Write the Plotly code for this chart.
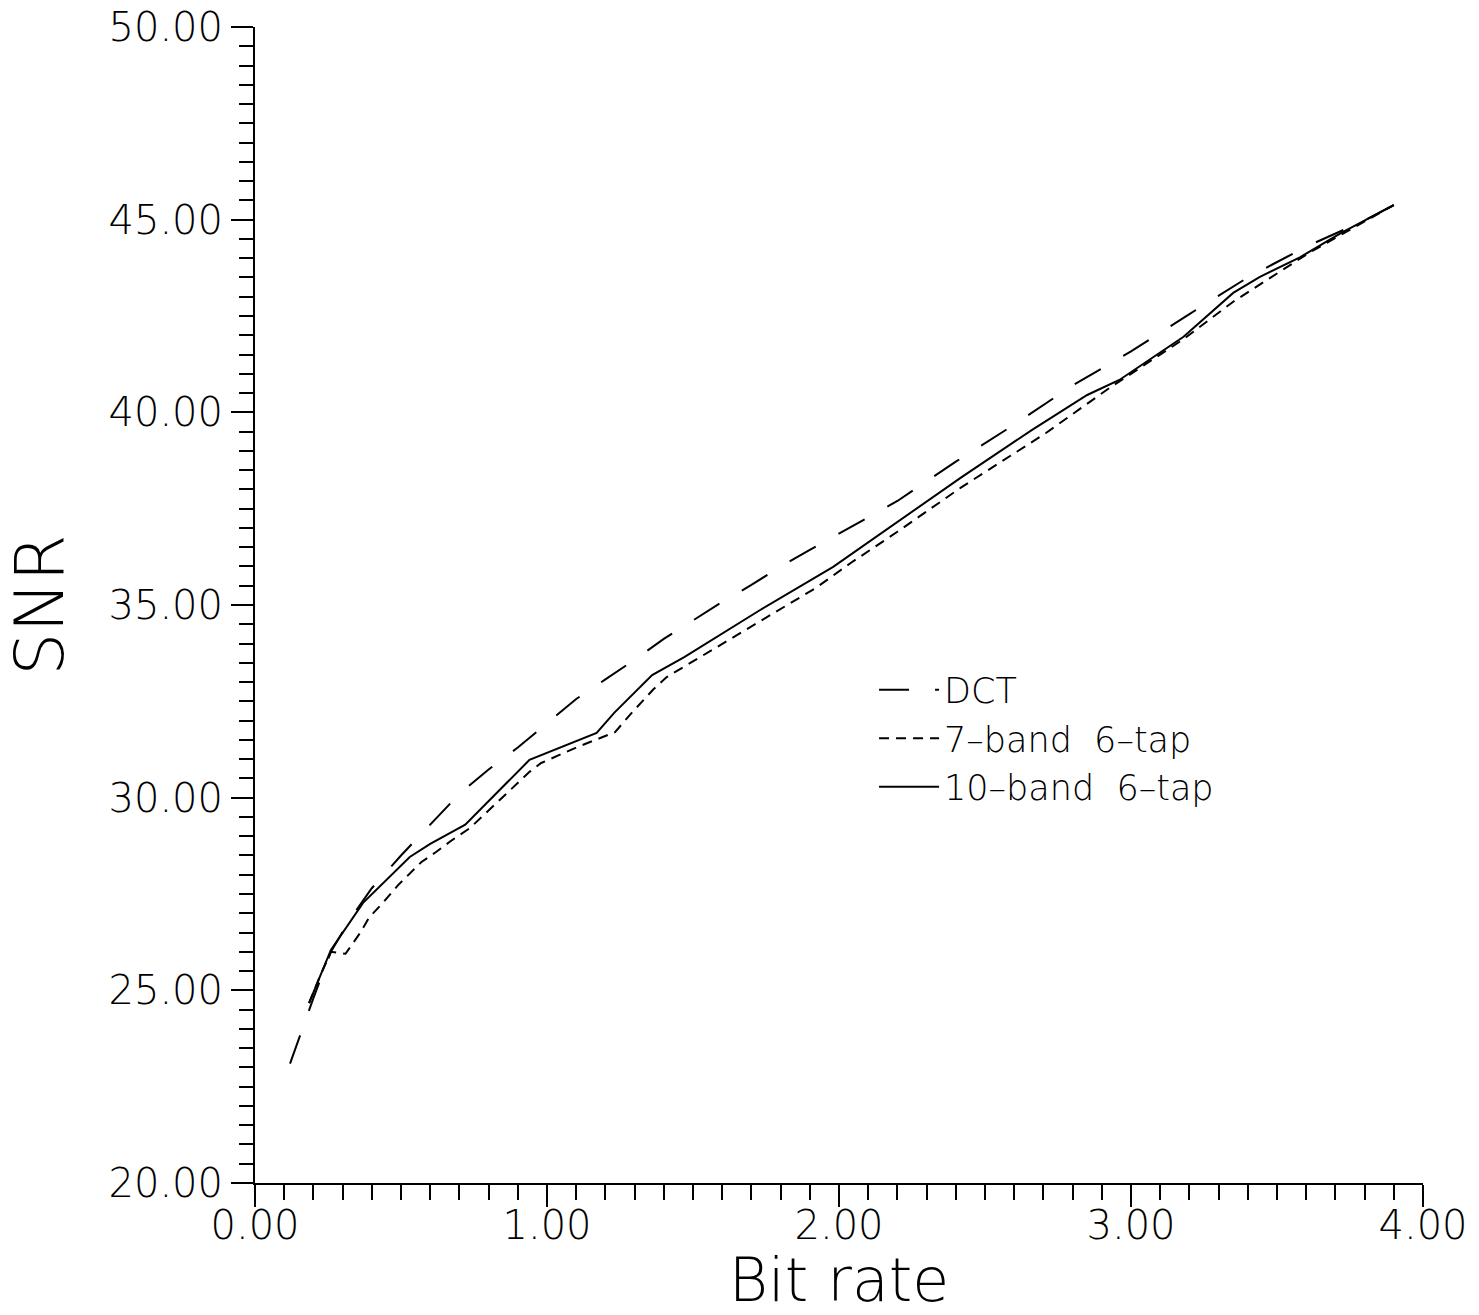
import plotly.graph_objects as go

# ---- data ----
dct_x = [0.12, 0.20, 0.26, 0.33, 0.40, 0.50, 0.60, 0.70, 0.80, 0.90, 1.00, 1.10, 1.20, 1.30,
         1.40, 1.50, 1.60, 1.70, 1.80, 1.90, 2.00, 2.20, 2.40, 2.60, 2.80, 3.00, 3.20, 3.40,
         3.60, 3.80, 3.90]
dct_y = [23.1, 24.8, 26.0, 26.9, 27.65, 28.5, 29.3, 30.1, 30.73, 31.3, 31.93, 32.56, 33.07, 33.58,
         34.12, 34.6, 35.08, 35.52, 36.0, 36.43, 36.85, 37.7, 38.72, 39.68, 40.7, 41.58, 42.55, 43.5,
         44.3, 44.98, 45.38]

band7_x = [0.185, 0.22, 0.26, 0.31, 0.36, 0.39, 0.44, 0.49, 0.57, 0.62, 0.675, 0.736, 0.94, 0.98,
           1.106, 1.233, 1.284, 1.33, 1.363, 1.41, 1.695, 1.92, 2.04, 2.20, 2.42, 2.71, 2.92,
           3.18, 3.35, 3.51, 3.61, 3.90]
band7_y = [24.67, 25.32, 26.0, 25.95, 26.49, 26.88, 27.29, 27.73, 28.33, 28.59, 28.9, 29.21, 30.67, 30.9,
           31.32, 31.7, 32.15, 32.54, 32.8, 33.13, 34.43, 35.44, 36.09, 36.9, 38.06, 39.47, 40.6,
           41.9, 42.87, 43.64, 44.14, 45.38]

band10_x = [0.185, 0.22, 0.26, 0.37, 0.53, 0.60, 0.72, 0.94, 1.17, 1.23, 1.36, 1.47, 1.73, 1.98,
            2.20, 2.42, 2.66, 2.85, 2.96, 3.18, 3.35, 3.44, 3.58, 3.72, 3.90]
band10_y = [24.67, 25.32, 26.05, 27.27, 28.46, 28.8, 29.3, 30.98, 31.68, 32.2, 33.18, 33.65, 34.87, 35.99,
            37.16, 38.32, 39.54, 40.45, 40.84, 41.96, 43.1, 43.51, 44.03, 44.66, 45.38]

series_names = ["DCT", "7\u2013band  6\u2013tap", "10\u2013band  6\u2013tap"]

FONT = "DejaVu Sans"

fig = go.Figure()
fig.add_trace(go.Scatter(x=dct_x, y=dct_y, mode="lines", name=series_names[0],
                         line=dict(color="black", width=2, dash="30px,26px")))
fig.add_trace(go.Scatter(x=band7_x, y=band7_y, mode="lines", name=series_names[1],
                         line=dict(color="black", width=2, dash="10px,7px")))
fig.add_trace(go.Scatter(x=band10_x, y=band10_y, mode="lines", name=series_names[2],
                         line=dict(color="black", width=2)))

fig.update_layout(
    width=1479, height=1315,
    margin=dict(l=255, r=56, t=27, b=132),
    paper_bgcolor="white", plot_bgcolor="white",
    font=dict(family=FONT, color="black", size=40, weight=200),
    showlegend=True,
    legend=dict(x=0.53, y=0.452, xanchor="left", yanchor="top",
                bgcolor="rgba(0,0,0,0)", font=dict(size=35, family=FONT, weight=200),
                tracegroupgap=0, itemwidth=60),
)

fig.update_xaxes(
    range=[0, 4], tickmode="linear", tick0=0, dtick=1, tickformat=".2f",
    showgrid=False, zeroline=False, showline=True, linecolor="black", linewidth=2,
    ticks="outside", ticklen=22, tickwidth=2, tickcolor="black",
    tickfont=dict(size=40, family=FONT, weight=200), ticklabelstandoff=-16,
    minor=dict(dtick=0.1, ticks="outside", ticklen=15, tickwidth=2, tickcolor="black", showgrid=False),
    title=dict(text="Bit rate", font=dict(size=60, family=FONT, weight=200), standoff=14),
    automargin=False,
)
fig.update_yaxes(
    range=[20, 50], tickmode="linear", tick0=20, dtick=5, tickformat=".2f",
    showgrid=False, zeroline=False, showline=True, linecolor="black", linewidth=2,
    ticks="outside", ticklen=22, tickwidth=2, tickcolor="black",
    tickfont=dict(size=40, family=FONT, weight=200),
    minor=dict(dtick=0.5, ticks="outside", ticklen=14, tickwidth=2, tickcolor="black", showgrid=False),
    title=dict(text="SNR", font=dict(size=68, family=FONT, weight=200), standoff=30),
    automargin=False,
)

fig.write_html("out.html")
